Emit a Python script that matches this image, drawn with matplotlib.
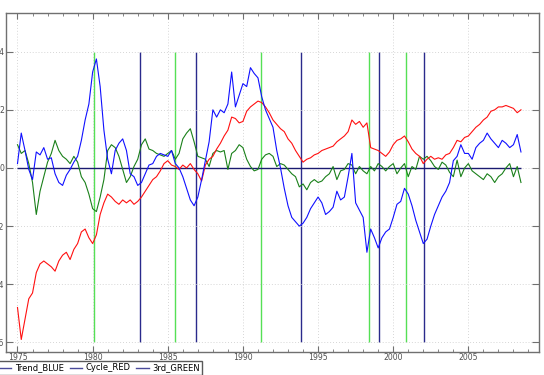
import numpy as np
import matplotlib
matplotlib.use('Agg')
import matplotlib.pyplot as plt
from matplotlib.lines import Line2D
from matplotlib.ticker import MultipleLocator

# quarterly time axis, 1975Q1 .. 2008Q3
years = 1975 + 0.25 * np.arange(135)

# red series (trend-like)
red = [-4.8, -5.9, -5.2, -4.5,
       -4.3, -3.6, -3.3, -3.2,
       -3.3, -3.4, -3.55, -3.2,
       -3.0, -2.9, -3.15, -2.8,
       -2.6, -2.2, -2.1, -2.4,
       -2.6, -2.3, -1.6, -1.2,
       -0.9, -1.0, -1.15, -1.25,
       -1.1, -1.2, -1.1, -1.25,
       -1.15, -1.0, -0.8, -0.6,
       -0.4, -0.3, -0.1, 0.15,
       0.25, 0.1, 0.05, -0.05,
       0.1, 0.0, 0.15, -0.05,
       -0.2, -0.45, 0.1, 0.3,
       0.4, 0.65, 0.85, 1.1,
       1.3, 1.75, 1.7, 1.55,
       1.6, 1.95, 2.1, 2.2,
       2.3, 2.25, 2.1, 1.9,
       1.65, 1.5, 1.35, 1.25,
       1.0, 0.85, 0.6, 0.4,
       0.2, 0.3, 0.35, 0.45,
       0.5, 0.6, 0.65, 0.7,
       0.75, 0.9, 1.0, 1.1,
       1.25, 1.65, 1.5, 1.6,
       1.4, 1.55, 0.7, 0.65,
       0.6, 0.5, 0.4, 0.55,
       0.8, 0.95, 1.0, 1.1,
       0.9, 0.65, 0.5, 0.4,
       0.15, 0.3, 0.4, 0.3,
       0.35, 0.3, 0.45, 0.5,
       0.7, 0.95, 0.9, 1.05,
       1.1, 1.25, 1.4, 1.5,
       1.65, 1.75, 1.95, 2.0,
       2.1, 2.1, 2.15, 2.1,
       2.05, 1.9, 2.0]

# blue series (cycle-like)
blue = [0.15, 1.2, 0.6, -0.05,
        -0.4, 0.55, 0.45, 0.7,
        0.3, 0.35, -0.2, -0.5,
        -0.6, -0.25, -0.05, 0.2,
        0.4, 0.95, 1.65, 2.2,
        3.3, 3.75, 2.8, 1.3,
        0.3, -0.2, 0.6, 0.85,
        1.0, 0.6, -0.2, -0.3,
        -0.6, -0.5, -0.2, 0.1,
        0.15, 0.4, 0.5, 0.45,
        0.4, 0.6, 0.15, 0.0,
        -0.3, -0.7, -1.1, -1.3,
        -1.0, -0.4, 0.25, 0.9,
        2.0, 1.75, 2.0, 1.9,
        2.2, 3.3, 2.1, 2.5,
        2.9, 2.8, 3.45, 3.25,
        3.1, 2.45, 2.0, 1.7,
        1.4, 0.6, 0.0, -0.7,
        -1.3, -1.7, -1.85, -2.0,
        -1.9, -1.7, -1.4, -1.2,
        -1.0, -1.2, -1.6, -1.5,
        -1.35, -0.8, -1.1, -1.0,
        -0.3, 0.5, -1.2, -1.45,
        -1.7, -2.9, -2.1, -2.4,
        -2.75, -2.4, -2.2, -2.1,
        -1.7, -1.25, -1.15, -0.7,
        -0.9, -1.3, -1.8, -2.2,
        -2.6, -2.45, -2.0, -1.6,
        -1.3, -1.0, -0.8, -0.5,
        0.25, 0.4, 0.8, 0.5,
        0.5, 0.3, 0.7, 0.85,
        0.95, 1.2, 1.0, 0.85,
        0.7, 0.95, 0.85, 0.7,
        0.8, 1.15, 0.55]

# green series
green = [0.8, 0.5, 0.6, 0.15,
         -0.5, -1.6, -0.8, -0.3,
         0.2, 0.5, 0.95, 0.6,
         0.4, 0.3, 0.15, 0.4,
         0.2, -0.3, -0.5, -0.9,
         -1.4, -1.5, -1.0, -0.4,
         0.6, 0.8, 0.7, 0.4,
         -0.05, -0.5, -0.3, 0.05,
         0.3, 0.8, 1.0, 0.65,
         0.6, 0.5, 0.45, 0.4,
         0.5, 0.6, 0.3, 0.5,
         1.0, 1.2, 1.35, 0.9,
         0.4, 0.35, 0.3, 0.05,
         0.5, 0.6, 0.55, 0.6,
         -0.05, 0.5, 0.6, 0.8,
         0.7, 0.3, 0.05, -0.1,
         -0.05, 0.3, 0.45, 0.5,
         0.4, 0.05, 0.15, 0.1,
         -0.05, -0.2, -0.3, -0.65,
         -0.55, -0.75, -0.5, -0.4,
         -0.5, -0.45, -0.3, -0.2,
         0.05, -0.4, -0.1, -0.05,
         0.15, 0.1, -0.2, 0.05,
         -0.1, -0.2, 0.05, -0.1,
         0.15, 0.05, -0.1, 0.05,
         0.15, -0.2, 0.0, 0.15,
         -0.3, 0.05, -0.05, 0.4,
         0.3, 0.4, 0.25, 0.05,
         -0.05, 0.2, 0.1, -0.15,
         -0.3, 0.27, -0.3, 0.0,
         0.15, -0.1, -0.2, -0.3,
         -0.4, -0.2, -0.3, -0.5,
         -0.3, -0.2, 0.0, 0.15,
         -0.3, 0.05, -0.5]

# vertical event markers
green_marks = [1980.11, 1985.46, 1991.18, 1998.41, 2000.83]
navy_marks = [1983.13, 1986.90, 1993.84, 1999.07, 2002.07]

legend_labels = ['Trend_BLUE', 'Cycle_RED', '3rd_GREEN']

fig = plt.figure(figsize=(5.44, 3.75), dpi=100)
ax = fig.add_axes([6 / 544, 1 - 352 / 375, 533 / 544, 339 / 375])

ax.vlines(green_marks, -6, 4, color='#55e055', lw=1.0, zorder=1)
ax.vlines(navy_marks, -6, 4, color='#2a2a8c', lw=1.0, zorder=1)
ax.hlines(0, years[0], years[-1], color='#1a1a70', lw=1.0, zorder=2)

ax.plot(years, green, color='#1a801a', lw=0.8, zorder=3)
ax.plot(years, red, color='#ff1010', lw=0.8, zorder=3)
ax.plot(years, blue, color='#1010ff', lw=0.8, zorder=4)

ax.set_xlim(1974.235, 2009.70)
ax.set_ylim(-6.33, 5.33)
ax.xaxis.set_major_locator(MultipleLocator(5))
ax.xaxis.set_minor_locator(MultipleLocator(1))
ax.set_yticks([-6, -4, -2, 0, 2, 4])
ax.grid(True, which='major', linestyle=(0, (1, 2.5)), color='#c8c8c8', lw=0.6)

ax.tick_params(which='both', direction='in', top=True, right=True,
               color='#707070', labelcolor='#505050', labelsize=5.6)
ax.tick_params(axis='x', which='major', length=4, pad=1)
ax.tick_params(axis='x', which='minor', length=2.5)
ax.tick_params(axis='y', which='major', length=5, pad=1.5)
for s in ax.spines.values():
    s.set_color('#707070')
    s.set_linewidth(1.0)

handles = [Line2D([], [], color='#4a4a9a', lw=1.0) for _ in legend_labels]
fig.legend(handles, legend_labels, loc='upper left',
           bbox_to_anchor=(-0.006, 1 - 361 / 375), ncol=3, fontsize=6.0,
           frameon=True, fancybox=False, edgecolor='#303030',
           handlelength=1.45, handletextpad=0.4, columnspacing=0.75,
           borderpad=0.3, borderaxespad=0)

fig.savefig('out.png', dpi=100)
